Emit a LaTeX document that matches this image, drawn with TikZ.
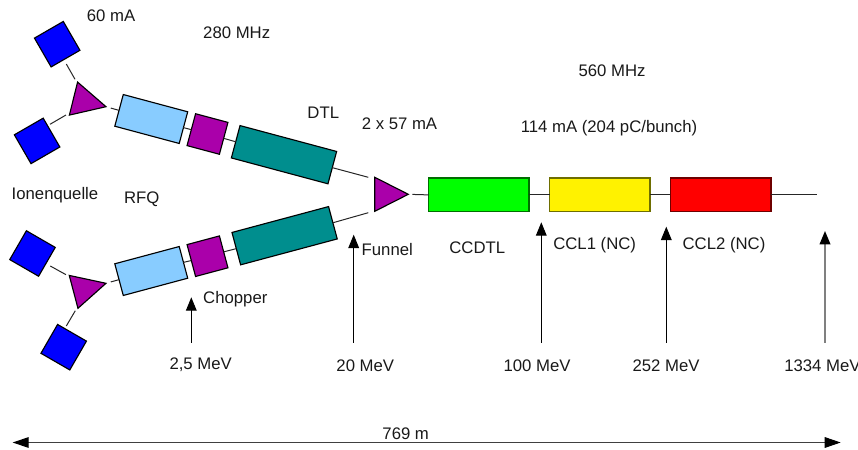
\documentclass[tikz,border=0pt]{standalone}
\usepackage{fontspec}
\setmainfont{Liberation Sans}
\usetikzlibrary{shapes.geometric,arrows.meta}
\definecolor{lblue}{RGB}{136,204,255}
\definecolor{tealc}{RGB}{0,142,142}
\definecolor{purp}{RGB}{170,0,170}
\definecolor{grn}{RGB}{0,255,0}
\definecolor{edgegreen}{RGB}{0,110,0}
\definecolor{edgeyellow}{RGB}{110,110,0}
\definecolor{edgered}{RGB}{110,0,0}
\begin{document}
\begin{tikzpicture}[x=0.75pt,y=-0.75pt,
  every node/.style={font=\fontsize{12.55}{14}\selectfont,text=black!90},
  block/.style n args={3}{draw=#3,line width=0.85pt,inner sep=0pt,outer sep=0pt,text width=0pt,minimum width=#1*0.75pt,minimum height=#2*0.75pt},
  source/.style={block={33.3}{33.3}{black},fill=blue},
  rfq/.style={block={66.7}{32.8}{black},fill=lblue},
  chop/.style={block={33.5}{33}{black},fill=purp},
  dtl/.style={block={100}{33.5}{black},fill=tealc},
  tri/.style={isosceles triangle,isosceles triangle stretches,draw=black,fill=purp,line width=0.85pt,inner sep=0pt,outer sep=0pt,minimum width=34*0.75pt,minimum height=33.5*0.75pt,anchor=apex},
  conn/.style={draw=black!85,line width=0.75pt},
  marker/.style={draw=black,line width=0.75pt,-{Triangle[length=10pt,width=8pt]}},
  span/.style={draw=black!75,line width=0.75pt,{Triangle[length=12pt,width=8pt,black]}-{Triangle[length=12pt,width=8pt,black]}}
]
\path[use as bounding box] (0,0) rectangle (858,450);
\clip (0,0) rectangle (858,450);

% top branch
\node[source,rotate=30] (s1) at (57.2,44.2) {};
\node[source,rotate=30] (s2) at (37.1,140.9) {};
\node[tri,rotate=-14] (t1) at (106,106.7) {};
\node[rfq,rotate=-15] (r1) at (151.25,119) {};
\node[chop,rotate=-15] (c1) at (207.5,134) {};
\node[dtl,rotate=-15] (d1) at (284,154.7) {};
% bottom branch
\node[source,rotate=-30] (s3) at (32.5,253.5) {};
\node[source,rotate=-30] (s4) at (63.7,347.2) {};
\node[tri,rotate=14.8] (t2) at (106,283.3) {};
\node[rfq,rotate=15] (r2) at (151.25,271) {};
\node[chop,rotate=15] (c2) at (207.5,256.2) {};
\node[dtl,rotate=15] (d2) at (284.6,235.7) {};
% funnel and main line
\node[tri] (f) at (408.3,194.3) {};
\node[block={100.3}{33.7}{edgegreen},fill=grn] (ccdtl) at (478.9,194.9) {};
\node[block={100.3}{33.7}{edgeyellow},fill=yellow] (ccl1) at (599.9,194.9) {};
\node[block={100.7}{33.7}{edgered},fill=red] (ccl2) at (720.7,194.9) {};

% free connector ends
\coordinate (a1) at (66.3,64);    \coordinate (a2) at (75,79.3);
\coordinate (b1) at (50,124.3);   \coordinate (b2) at (66,115);
\coordinate (e1) at (50.3,266);   \coordinate (e2) at (66,274.7);
\coordinate (g1) at (66.3,326);   \coordinate (g2) at (75.3,310.7);
\coordinate (h1) at (368.3,177.3);\coordinate (h2) at (368.3,212.7);
\coordinate (out) at (816.7,194.9);

\draw[conn] (a1)--(a2);
\draw[conn] (b1)--(b2);
\draw[conn] (e1)--(e2);
\draw[conn] (g1)--(g2);
\draw[conn,shorten <=3.7pt] (t1.apex)--(r1.west);
\draw[conn,shorten <=3.7pt] (t2.apex)--(r2.west);
\draw[conn] (r1.east)--(c1.west);
\draw[conn] (c1.east)--(d1.west);
\draw[conn] (r2.east)--(c2.west);
\draw[conn] (c2.east)--(d2.west);
\draw[conn] (d1.east)--(h1);
\draw[conn] (d2.east)--(h2);
\draw[conn,shorten <=3pt] (f.apex)--(ccdtl.west);
\draw[conn] (ccdtl.east)--(ccl1.west);
\draw[conn] (ccl1.east)--(ccl2.west);
\draw[conn] (ccl2.east)--(out);

% energy markers
\coordinate (m1a) at (191.3,342.5); \coordinate (m1b) at (191.3,297.3);
\coordinate (m2a) at (353.7,342.5); \coordinate (m2b) at (353.7,234.7);
\coordinate (m3a) at (541.3,342.5); \coordinate (m3b) at (541.3,222.3);
\coordinate (m4a) at (666.3,342.5); \coordinate (m4b) at (666.3,226.7);
\coordinate (m5a) at (825,342.5);   \coordinate (m5b) at (825,231);
\draw[marker] (m1a)--(m1b);
\draw[marker] (m2a)--(m2b);
\draw[marker] (m3a)--(m3b);
\draw[marker] (m4a)--(m4b);
\draw[marker,draw=black!50,-{Triangle[length=10pt,width=8pt,black]},line width=1.1pt] (m5a)--(m5b);
\coordinate (sp1) at (12.7,442.5); \coordinate (sp2) at (840.7,442.5);
\draw[span] (sp1)--(sp2);

% labels
\node (l1) at (111,16) {60 mA};
\node (l2) at (236.7,32.7) {280 MHz};
\node (l3) at (323.3,112.3) {DTL};
\node (l4) at (399.5,124) {2 x 57 mA};
\node (l5) at (612,71) {560 MHz};
\node (l6) at (609,128.5) {114 mA (204 pC/bunch)};
\node (l7) at (55,195.3) {Ionenquelle};
\node (l8) at (141.7,199) {RFQ};
\node (l9) at (235.3,299.3) {Chopper};
\node (l10) at (387.3,249.3) {Funnel};
\node (l11) at (477.3,247.3) {CCDTL};
\node (l12) at (594.7,245.3) {CCL1 (NC)};
\node (l13) at (724,245.3) {CCL2 (NC)};
\node (l14) at (200.7,364.3) {2,5 MeV};
\node (l15) at (365.3,365.3) {20 MeV};
\node (l16) at (537,365.3) {100 MeV};
\node (l17) at (666,365.3) {252 MeV};
\node[anchor=west,inner sep=0pt] (l18) at (784,365.3) {1334 MeV};
\node (l19) at (405.7,433.3) {769 m};
\end{tikzpicture}
\end{document}
